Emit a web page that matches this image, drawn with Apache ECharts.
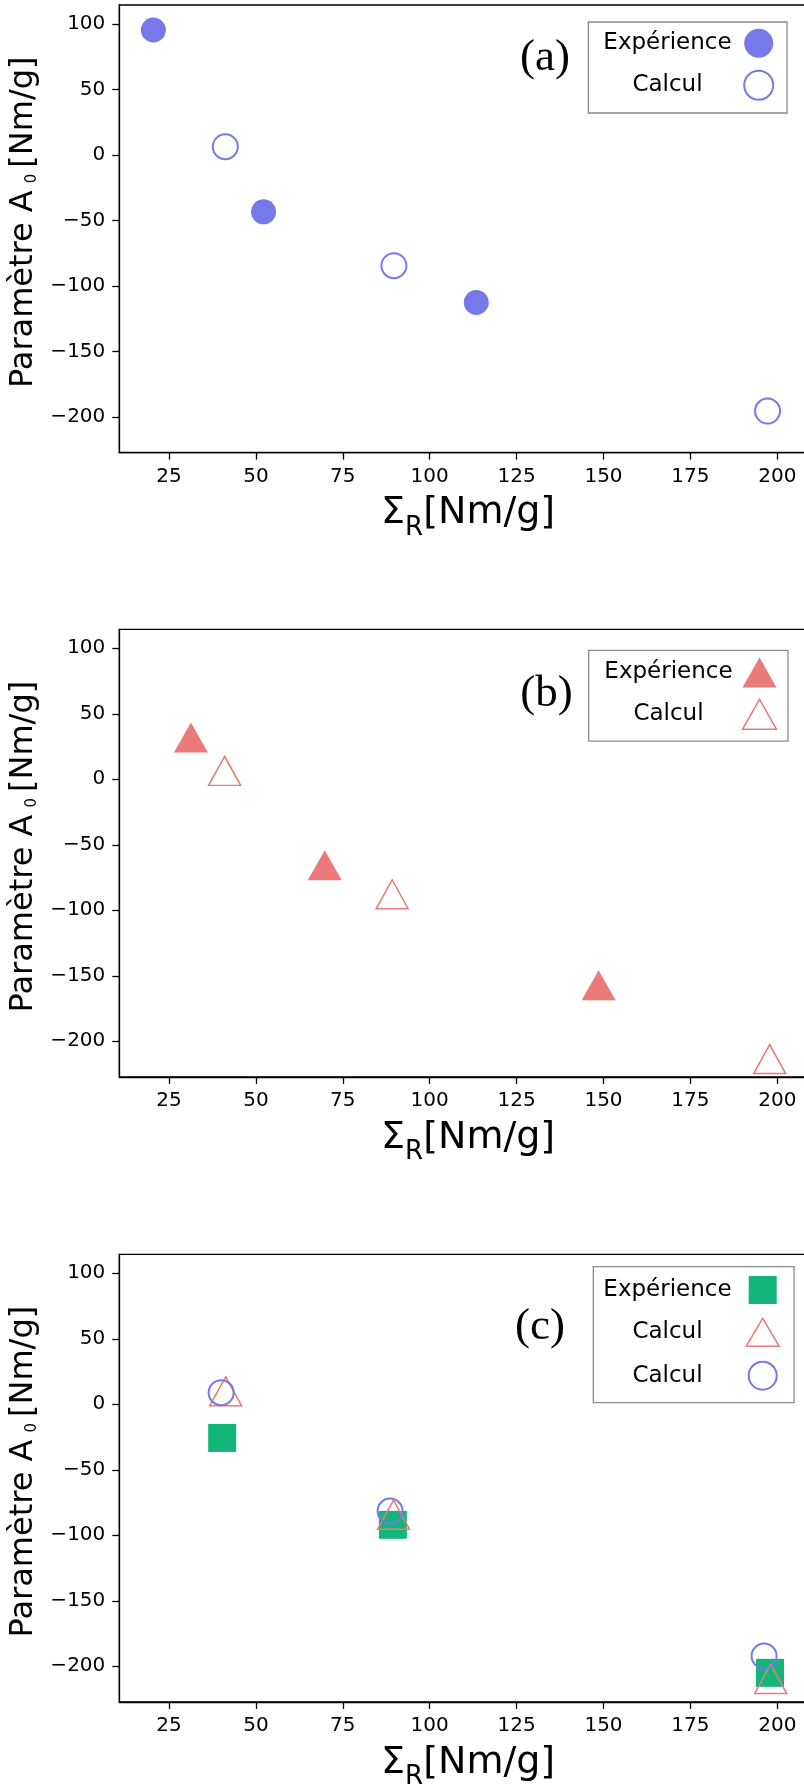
<!DOCTYPE html>
<html>
<head>
<meta charset="utf-8">
<script src="https://cdn.jsdelivr.net/npm/echarts@6/dist/echarts.min.js"></script>
<style>html,body{margin:0;padding:0;background:#fff}#c{width:804px;height:1787px}</style>
</head>
<body>
<div id="c"></div>
<script>
// ---- data ----
const xTicks = [25, 50, 75, 100, 125, 150, 175, 200];
const yTicks = [-200, -150, -100, -50, 0, 50, 100];

// panel (a)
const expA_x = [20.5, 52.2, 113.4];
const expA_y = [95.4, -43.4, -112.6];
const calcA_x = [41.2, 89.7, 197.2];
const calcA_y = [6.3, -84.5, -195.5];

// panel (b)
const expB_x = [31.3, 69.8, 148.6];
const expB_y = [31.9, -65.7, -157.2];
const calcB_x = [41.0, 89.2, 197.8];
const calcB_y = [6.4, -87.8, -213.6];

// panel (c)
const expC_x = [40.3, 89.4, 197.9];
const expC_y = [-25.7, -92.0, -205.0];
const calcC1_x = [41.3, 89.6, 198.1];
const calcC1_y = [9.9, -84.3, -209.7];
const calcC2_x = [40.0, 88.6, 196.2];
const calcC2_y = [8.9, -81.5, -192.2];

const panelLabels = ['(a)', '(b)', '(c)'];
const legendText = {
  a_exp: 'Expérience', a_calc: 'Calcul',
  b_exp: 'Expérience', b_calc: 'Calcul',
  c_exp: 'Expérience', c_calc1: 'Calcul', c_calc2: 'Calcul'
};

// ---- style ----
const BLUE = '#7779ea', RED = '#eb7b7b', GREEN = '#13b57a';
const FONT = 'DejaVu Sans';
const panelTops = [5, 629.3, 1254.3];
const PLOT_LEFT = 119.3, PLOT_W = 697.7, PLOT_H = 447.6;

function pts(xs, ys) { return xs.map((x, i) => [x, ys[i]]); }
const minus = v => String(v).replace('-', '\u2212');

const grids = panelTops.map(t => ({
  left: PLOT_LEFT, top: t, width: PLOT_W, height: PLOT_H,
  show: true, borderColor: '#000', borderWidth: 1.3, backgroundColor: 'transparent',
  containLabel: false, outerBoundsMode: 'none'
}));

const xAxes = [0, 1, 2].map(i => ({
  type: 'value', gridIndex: i, min: 10.7, max: 211.42,
  axisLine: { show: true, onZero: false, lineStyle: { color: '#000', width: 1.3 } },
  axisTick: { show: true, customValues: xTicks, length: 7, lineStyle: { color: '#000', width: 1.3 } },
  axisLabel: { customValues: xTicks, fontSize: 20, fontFamily: FONT, color: '#000', margin: 14, formatter: minus },
  splitLine: { show: false },
  name: '{s|\u03A3}{r|R}{s|[Nm/g]}',
  nameLocation: 'middle', nameGap: 42,
  nameTextStyle: {
    rich: {
      s: { fontSize: 38, fontFamily: FONT, color: '#000', lineHeight: 40, verticalAlign: 'top' },
      r: { fontSize: 26, fontFamily: FONT, color: '#000', lineHeight: 67 }
    }
  }
}));

const yAxes = [0, 1, 2].map(i => ({
  type: 'value', gridIndex: i, min: -227.2, max: 114.5,
  axisLine: { show: true, onZero: false, lineStyle: { color: '#000', width: 1.3 } },
  axisTick: { show: true, customValues: yTicks, length: 7, lineStyle: { color: '#000', width: 1.3 } },
  axisLabel: { customValues: yTicks, fontSize: 20, fontFamily: FONT, color: '#000', margin: 14, formatter: minus },
  splitLine: { show: false },
  name: '{m|Paramètre A}{z|0}{m|[Nm/g]}',
  nameLocation: 'middle', nameGap: 73, nameRotate: 90,
  nameTextStyle: {
    fontSize: 32, fontFamily: FONT, color: '#000', padding: [0, 0, 0, 13],
    rich: {
      m: { fontSize: 32, fontFamily: FONT, color: '#000', lineHeight: 32 },
      z: { fontSize: 15, fontFamily: FONT, color: '#000', lineHeight: 17, verticalAlign: 'bottom', padding: [0, 6, 0, 7] }
    }
  }
}));

const filled = c => ({ color: c, borderWidth: 0, opacity: 1 });
const hollow = (c, w) => ({ color: 'transparent', borderColor: c, borderWidth: w, opacity: 1 });

const series = [
  { name: 'a_exp', type: 'scatter', xAxisIndex: 0, yAxisIndex: 0, symbol: 'circle', symbolSize: 25, itemStyle: filled(BLUE), data: pts(expA_x, expA_y) },
  { name: 'a_calc', type: 'scatter', xAxisIndex: 0, yAxisIndex: 0, symbol: 'circle', symbolSize: 25, itemStyle: hollow(BLUE, 2), data: pts(calcA_x, calcA_y) },
  { name: 'b_exp', type: 'scatter', xAxisIndex: 1, yAxisIndex: 1, symbol: 'triangle', symbolSize: [34, 30], itemStyle: filled(RED), data: pts(expB_x, expB_y) },
  { name: 'b_calc', type: 'scatter', xAxisIndex: 1, yAxisIndex: 1, symbol: 'triangle', symbolSize: [32, 29], itemStyle: hollow(RED, 1.5), data: pts(calcB_x, calcB_y) },
  { name: 'c_exp', type: 'scatter', xAxisIndex: 2, yAxisIndex: 2, symbol: 'rect', symbolSize: 28, itemStyle: filled(GREEN), data: pts(expC_x, expC_y) },
  { name: 'c_calc1', type: 'scatter', xAxisIndex: 2, yAxisIndex: 2, symbol: 'triangle', symbolSize: [32, 29], itemStyle: hollow(RED, 1.5), data: pts(calcC1_x, calcC1_y) },
  { name: 'c_calc2', type: 'scatter', xAxisIndex: 2, yAxisIndex: 2, symbol: 'circle', symbolSize: 25, itemStyle: hollow(BLUE, 2), data: pts(calcC2_x, calcC2_y) }
];

function legendBox(opts) {
  return {
    orient: 'vertical', align: 'right', selectedMode: false,
    left: opts.left, top: opts.top, padding: opts.padding, itemGap: opts.gap,
    itemWidth: opts.iw, itemHeight: opts.ih,
    backgroundColor: '#fff', borderColor: '#8c8c8c', borderWidth: 1.3, borderRadius: 0,
    data: opts.data,
    formatter: n => '{t|' + legendText[n] + '}',
    textStyle: {
      fontSize: 23, fontFamily: FONT, color: '#000',
      rich: { t: { width: opts.tw, align: 'center', fontSize: 23, fontFamily: FONT, color: '#000', lineHeight: opts.ih } }
    }
  };
}

const legends = [
  legendBox({
    left: 588.3, top: 22, padding: [6.8, 12.8, 12.2, 7.5], gap: 12, iw: 29, ih: 29, tw: 143.4,
    data: [
      { name: 'a_exp', itemStyle: filled(BLUE) },
      { name: 'a_calc', itemStyle: hollow(BLUE, 2) }
    ]
  }),
  legendBox({
    left: 588.7, top: 650.4, padding: [7.1, 10.7, 11, 10.8], gap: 11.1, iw: 34, ih: 30, tw: 138,
    data: [
      { name: 'b_exp', itemStyle: filled(RED) },
      { name: 'b_calc', itemStyle: hollow(RED, 1.5) }
    ]
  }),
  legendBox({
    left: 593.3, top: 1266.7, padding: [9.3, 14.1, 12, 0.5], gap: 13.6, iw: 33, ih: 28, tw: 147.4,
    data: [
      { name: 'c_exp', icon: 'path://M0,0L10,0L10,10L0,10Z', itemStyle: filled(GREEN) },
      { name: 'c_calc1', itemStyle: hollow(RED, 1.5) },
      { name: 'c_calc2', itemStyle: hollow(BLUE, 2) }
    ]
  })
];

const labelPos = [[545, 58.5], [546.5, 693.7], [540, 1327]];
const graphic = panelLabels.map((t, i) => ({
  type: 'text', x: labelPos[i][0], y: labelPos[i][1], z: 10,
  style: { text: t, fontSize: 45, fontFamily: 'Liberation Serif', fill: '#000', align: 'center', verticalAlign: 'middle', textAlign: 'center', textVerticalAlign: 'middle' }
}));

const chart = echarts.init(document.getElementById('c'), null, { renderer: 'canvas' });
chart.setOption({
  animation: false,
  backgroundColor: '#fff',
  grid: grids,
  xAxis: xAxes,
  yAxis: yAxes,
  legend: legends,
  series: series,
  graphic: graphic
});
</script>
</body>
</html>
